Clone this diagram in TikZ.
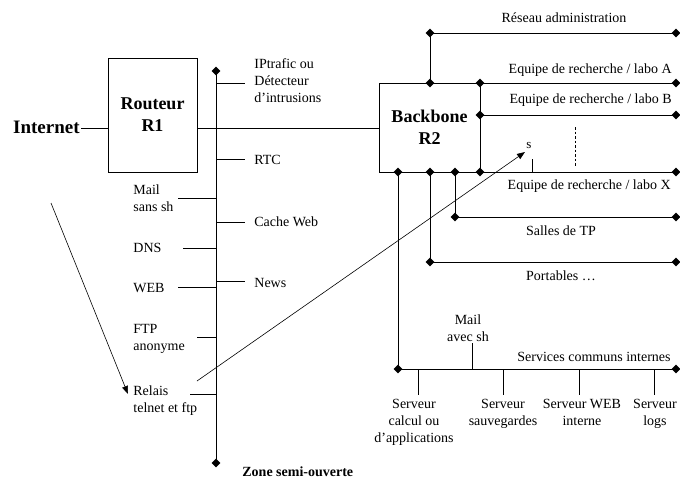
\documentclass[tikz,border=0pt]{standalone}
\usepackage{fontspec}
\setmainfont{Liberation Serif}
\usetikzlibrary{shapes.geometric,arrows.meta}
\begin{document}
\begin{tikzpicture}[x=1pt,y=-1pt,
  line width=0.8pt,
  jn/.style={diamond,fill=black,inner sep=0pt,minimum size=9pt},
  lbl/.style={inner sep=0pt,font=\fontsize{14}{17}\selectfont},
  bigbox/.style={draw,line width=0.8pt,rectangle,align=center,font=\fontsize{18}{22}\selectfont\bfseries},
  thinline/.style={line width=0.6pt},
  arr/.style={thinline,-{Triangle[length=8pt,width=6pt]}}
]
\useasboundingbox (0,0) rectangle (680,479);

% main boxes
\node[bigbox,minimum width=89pt,minimum height=114pt] (R1) at (152.5,115) {Routeur\\R1};
\node[bigbox,minimum width=101pt,minimum height=89pt] (R2) at (429.5,127.5) {Backbone\\R2};
\node[inner sep=0pt,anchor=east,font=\fontsize{19}{21}\selectfont\bfseries] (inet) at (80,127) {Internet};
\coordinate (inetR) at (81,128);
\draw (inetR) -- (inetR -| R1.west);
\draw (R1.east |- inetR) -- (R2.west |- inetR);

% semi-open zone
\node[jn] (dT) at (216,71) {};
\node[jn] (dB) at (216,463) {};
\draw (dT.center) -- (dB.center);
\node[inner sep=0pt,anchor=west,font=\fontsize{14}{16}\selectfont\bfseries] (zone) at (242,472) {Zone semi-ouverte};

% right-hand branches
\node[lbl,anchor=west,align=left] (ipt) at (254,81) {IPtrafic ou\\Détecteur\\d’intrusions};
\node[lbl,anchor=west] (rtc) at (254,160) {RTC};
\node[lbl,anchor=west] (cache) at (254,222) {Cache Web};
\node[lbl,anchor=west] (news) at (254,283) {News};
\foreach \yy in {83,159,222,281} \draw (dT.center |- 0,\yy) -- (245,\yy);

% left-hand branches
\node[lbl,anchor=west,align=left] (mail) at (133,198) {Mail\\sans sh};
\node[lbl,anchor=west] (dns) at (133,248) {DNS};
\node[lbl,anchor=west] (web) at (133,288) {WEB};
\node[lbl,anchor=west,align=left] (ftp) at (133,339) {FTP\\anonyme};
\node[lbl,anchor=west,align=left] (relais) at (133,401) {Relais\\telnet et ftp};
\draw (dT.center |- 0,198) -- (178,198);
\draw (dT.center |- 0,248) -- (183,248);
\draw (dT.center |- 0,287) -- (178,287);
\draw (dT.center |- 0,337) -- (197,337);
\draw (dT.center |- 0,394) -- (190,394);

% arrows
\coordinate (a1s) at (51,203);
\coordinate (a1e) at (128,394);
\draw[arr] (a1s) -- (a1e);
\coordinate (a2s) at (197,381);
\coordinate (a2e) at (525,152);
\draw[arr] (a2s) -- (a2e);

% backbone junctions
\node[jn] (t1) at (430,83) {};
\node[jn] (t2) at (430,33) {};
\node[jn] (t3) at (676,33) {};
\draw (t1.center) -- (t2.center) -- (t3.center);
\node[lbl] (adm) at (564,18) {Réseau administration};

\node[jn] (a1) at (480,83) {};
\node[jn] (a2) at (676,83) {};
\draw (a1.center) -- (a2.center);
\node[lbl,anchor=east] (labA) at (672,70) {Equipe de recherche / labo A};

\node[jn] (b1) at (480,115) {};
\node[jn] (b2) at (676,115) {};
\draw (b1.center) -- (b2.center);
\node[lbl,anchor=east] (labB) at (672,100) {Equipe de recherche / labo B};

\node[jn] (x1) at (480,172) {};
\node[jn] (x2) at (676,172) {};
\draw (x1.center) -- (x2.center);
\node[lbl,anchor=east] (labX) at (671,186) {Equipe de recherche / labo X};

\node[inner sep=0pt,font=\fontsize{13}{15}\selectfont] (s) at (529,145) {s};
\coordinate (sTick) at (532,159);
\draw[thinline] (sTick) -- (sTick |- x1);
\coordinate (dash1) at (575,127);
\coordinate (dash2) at (575,166);
\draw[thinline,dash pattern=on 2.5pt off 2pt] (dash1) -- (dash2);

% bottom junctions
\node[jn] (c1) at (398,172) {};
\node[jn] (c2) at (430,172) {};
\node[jn] (c3) at (455,172) {};

\node[jn] (tp1) at (455,217) {};
\node[jn] (tp2) at (676,217) {};
\draw (c3.center) -- (tp1.center) -- (tp2.center);
\node[lbl] (tp) at (561,231) {Salles de TP};

\node[jn] (p1) at (430,262) {};
\node[jn] (p2) at (676,262) {};
\draw (c2.center) -- (p1.center) -- (p2.center);
\node[lbl] (port) at (561,276) {Portables …};

\node[jn] (sv1) at (398,369) {};
\node[jn] (sv2) at (676,369) {};
\draw (c1.center) -- (sv1.center) -- (sv2.center);
\node[lbl,anchor=east] (serv) at (671,357) {Services communs internes};

\node[lbl,align=center] (mailsh) at (468,328) {Mail\\avec sh};
\draw (472,343) -- (472,369);

\foreach \xx in {418,503,579,654} \draw (\xx,369) -- (\xx,395);
\node[lbl,align=center,anchor=north] (calc) at (414,399) {Serveur\\calcul ou\\d’applications};
\node[lbl,align=center,anchor=north] (sauv) at (503,399) {Serveur\\sauvegardes};
\node[lbl,align=center,anchor=north] (wint) at (582,399) {Serveur WEB\\interne};
\node[lbl,align=center,anchor=north] (logs) at (655,399) {Serveur\\logs};
\end{tikzpicture}
\end{document}
